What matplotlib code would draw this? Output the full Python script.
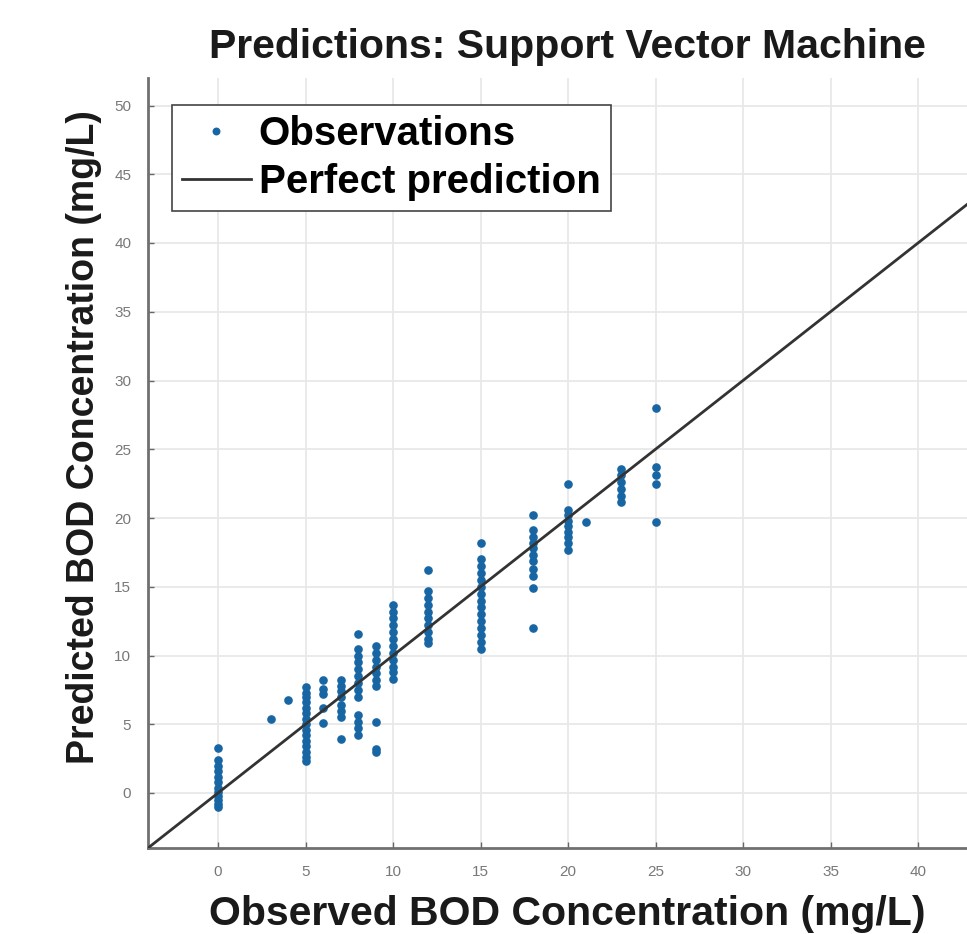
import matplotlib
matplotlib.use("Agg")
import matplotlib.pyplot as plt
import numpy as np

# ---- data ----
obs_0 = [3.3, 2.4, 2.0, 1.6, 1.2, 0.8, 0.4, 0.1, -0.2, -0.5, -0.8, -1.0]
obs_3 = [5.4]
obs_4 = [6.8]
obs_5 = [7.7, 7.3, 7.0, 6.6, 6.2, 5.8, 5.4, 5.0, 4.6, 4.2, 3.8, 3.4, 3.0, 2.6, 2.3]
obs_6 = [8.2, 7.6, 7.2, 6.2, 5.1]
obs_7 = [8.2, 7.8, 7.4, 7.0, 6.4, 6.0, 5.5, 3.9]
obs_8 = [11.6, 10.5, 10.0, 9.5, 9.0, 8.5, 8.0, 7.5, 7.0, 5.7, 5.2, 4.7, 4.2]
obs_9 = [10.7, 10.2, 9.7, 9.2, 8.7, 8.2, 7.8, 5.2, 3.2, 3.0]
obs_10 = [13.7, 13.2, 12.7, 12.2, 11.7, 11.2, 10.7, 10.2, 9.7, 9.2, 8.8, 8.3]
obs_12 = [16.2, 14.7, 14.2, 13.7, 13.2, 12.7, 12.2, 11.7, 11.2, 10.9]
obs_15 = [18.2, 17.0, 16.5, 16.0, 15.5, 15.0, 14.5, 14.0, 13.5, 13.0, 12.5, 12.0, 11.5, 11.0, 10.5]
obs_18 = [20.2, 19.1, 18.6, 18.2, 17.8, 17.3, 16.9, 16.3, 15.8, 14.9, 12.0]
obs_20 = [22.5, 20.6, 20.2, 19.8, 19.4, 19.0, 18.6, 18.2, 17.7]
obs_21 = [19.7]
obs_23 = [23.6, 23.1, 22.6, 22.1, 21.6, 21.2]
obs_25 = [28.0, 23.7, 23.1, 22.5, 19.7]

observed_levels = [0, 3, 4, 5, 6, 7, 8, 9, 10, 12, 15, 18, 20, 21, 23, 25]
predicted_groups = [obs_0, obs_3, obs_4, obs_5, obs_6, obs_7, obs_8, obs_9,
                    obs_10, obs_12, obs_15, obs_18, obs_20, obs_21, obs_23, obs_25]

x_ticks = [0, 5, 10, 15, 20, 25, 30, 35, 40]
y_ticks = [0, 5, 10, 15, 20, 25, 30, 35, 40, 45, 50]
perfect_line = [-4, 60]

title_text = "Predictions: Support Vector Machine"
xlabel_text = "Observed BOD Concentration (mg/L)"
ylabel_text = "Predicted BOD Concentration (mg/L)"

xs = np.concatenate([[lvl] * len(g) for lvl, g in zip(observed_levels, predicted_groups)])
ys = np.concatenate(predicted_groups)

# ---- figure ----
W, H = 967, 934
fig = plt.figure(figsize=(W / 100, H / 100), dpi=100)
plt.rcParams['font.family'] = ['Liberation Sans', 'DejaVu Sans']

left_px, right_px, top_px, bottom_px = 148, 967, 78, 848
ax = fig.add_axes([left_px / W, 1 - bottom_px / H, (right_px - left_px) / W, (bottom_px - top_px) / H])
ax.set_xlim(-4, 42.8)
ax.set_ylim(-4, 52)

ax.set_xticks(x_ticks)
ax.set_yticks(y_ticks)
ax.grid(True, color='#e8e8e8', linewidth=1.3)
ax.set_axisbelow(True)
ax.tick_params(direction='in', length=4, width=1, color='#666666',
               labelsize=11, labelcolor='#787878', pad=12)
for s in ['top', 'right']:
    ax.spines[s].set_visible(False)
for s in ['left', 'bottom']:
    ax.spines[s].set_color('#707070')
    ax.spines[s].set_linewidth(2.0)

ax.plot(xs, ys, linestyle='none', marker='o', markersize=5.2,
        color='#1766a3', label='Observations', zorder=3)
ax.plot(perfect_line, perfect_line, color='#333333', linewidth=2.0,
        label='Perfect prediction', zorder=4, clip_on=True)

leg = ax.legend(loc='upper left', bbox_to_anchor=((172 - left_px) / (right_px - left_px),
                                                  (bottom_px - 105) / (bottom_px - top_px)),
                borderaxespad=0, fancybox=False, framealpha=1, edgecolor='#444444',
                prop={'weight': 'bold', 'size': 29}, handlelength=1.7, handletextpad=0.2,
                borderpad=0.25, labelspacing=0.25, markerscale=0.9)
leg.get_frame().set_linewidth(1.2)

fig.text(567 / W, 1 - 47 / H, title_text, ha='center', va='center',
         fontsize=29.5, fontweight='bold', color='#1a1a1a')
fig.text(567 / W, 1 - 914 / H, xlabel_text, ha='center', va='center',
         fontsize=29.5, fontweight='bold', color='#1a1a1a')
fig.text(84 / W, 1 - 437 / H, ylabel_text, ha='center', va='center', rotation=90,
         fontsize=27, fontweight='bold', color='#1a1a1a')

fig.savefig('out.png', dpi=100)
